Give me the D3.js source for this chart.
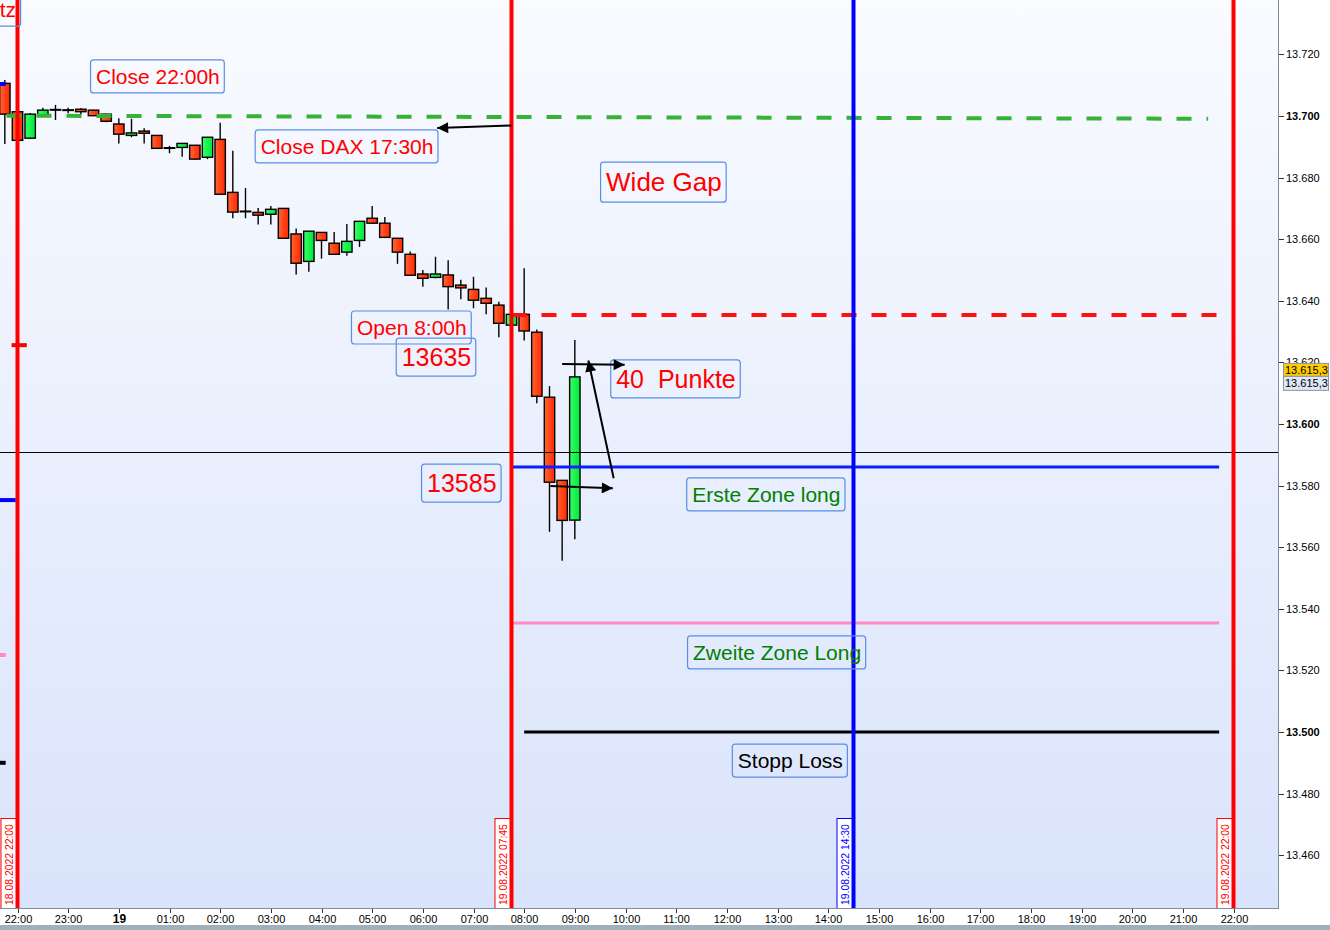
<!DOCTYPE html>
<html><head><meta charset="utf-8">
<script src="https://cdn.jsdelivr.net/npm/d3@7"></script>
<style>
html,body{margin:0;padding:0;background:#fff;overflow:hidden}
svg{display:block;font-family:"Liberation Sans",Arial,sans-serif}
text{white-space:pre}
</style></head><body>
<svg id="c" width="1330" height="930"></svg>
<script>
// ---------- DATA ----------
const candleTimes = ["18 21:45","18 22:00","18 22:15","18 22:30","18 22:45","18 23:00","18 23:15","18 23:30","18 23:45",
  "19 00:00","19 00:15","19 00:30","19 00:45","19 01:00","19 01:15","19 01:30","19 01:45","19 02:00","19 02:15","19 02:30","19 02:45",
  "19 03:00","19 03:15","19 03:30","19 03:45","19 04:00","19 04:15","19 04:30","19 04:45","19 05:00","19 05:15","19 05:30","19 05:45",
  "19 06:00","19 06:15","19 06:30","19 06:45","19 07:00","19 07:15","19 07:30","19 07:45","19 08:00","19 08:15","19 08:30","19 08:45","19 09:00"];
const opens  = [13710.6,13701.4,13692.8,13700.0,13702.0,13702.0,13702.2,13701.9,13700.6,
  13697.4,13693.7,13695.1,13693.7,13689.7,13689.8,13690.5,13686.6,13692.4,13675.2,13669.0,13668.7,
  13668.1,13670.0,13661.7,13652.8,13662.2,13658.7,13655.8,13659.6,13666.8,13665.2,13660.3,13655.1,
  13648.7,13647.6,13648.4,13645.1,13643.7,13640.8,13638.6,13632.1,13635.6,13629.8,13608.7,13581.7,13568.8];
const highs  = [13711.7,13702.0,13701.0,13702.7,13703.6,13702.7,13702.5,13702.0,13700.7,
  13699.3,13699.1,13696.0,13693.8,13690.3,13691.2,13690.6,13693.2,13697.8,13688.7,13676.6,13670.1,
  13670.8,13670.1,13663.5,13662.7,13662.3,13662.3,13664.9,13665.9,13670.8,13667.2,13660.4,13656.0,
  13650.0,13654.3,13653.2,13646.8,13647.8,13644.3,13639.7,13635.7,13650.6,13630.7,13612.3,13581.8,13627.3];
const lows   = [13690.9,13691.0,13692.5,13699.7,13698.7,13700.9,13700.6,13700.0,13698.0,
  13691.1,13693.1,13691.1,13689.4,13687.9,13686.8,13685.9,13686.0,13674.5,13666.8,13666.8,13664.8,
  13664.8,13660.2,13648.5,13649.4,13653.7,13655.0,13654.6,13657.5,13665.1,13660.5,13652.0,13648.2,
  13644.6,13647.3,13637.2,13640.5,13637.6,13635.6,13628.2,13632.0,13627.1,13606.7,13565.0,13555.6,13562.6];
const closes = [13700.6,13692.1,13700.6,13701.9,13702.1,13701.8,13701.4,13700.1,13698.3,
  13694.1,13694.5,13694.4,13689.5,13689.6,13691.1,13686.0,13693.1,13674.6,13668.8,13669.1,13667.8,
  13669.7,13660.3,13652.2,13662.6,13659.6,13655.1,13659.3,13665.8,13665.2,13660.6,13655.8,13648.3,
  13647.3,13648.7,13644.6,13644.2,13640.2,13639.2,13632.7,13635.6,13630.2,13609.0,13581.1,13568.7,13615.3];

const priceTicks = [13460,13480,13500,13520,13540,13560,13580,13600,13620,13640,13660,13680,13700,13720];
const timeTicks = ["18 22:00","18 23:00","19 00:00","19 01:00","19 02:00","19 03:00","19 04:00","19 05:00","19 06:00",
  "19 07:00","19 08:00","19 09:00","19 10:00","19 11:00","19 12:00","19 13:00","19 14:00","19 15:00","19 16:00",
  "19 17:00","19 18:00","19 19:00","19 20:00","19 21:00","19 22:00"];
const timeTickLabels = ["22:00","23:00","19","01:00","02:00","03:00","04:00","05:00","06:00","07:00","08:00","09:00",
  "10:00","11:00","12:00","13:00","14:00","15:00","16:00","17:00","18:00","19:00","20:00","21:00","22:00"];

const vLineTimes  = ["18 22:00","19 07:45","19 14:30","19 22:00"];
const vLineLabels = ["18.08.2022 22:00","19.08.2022 07:45","19.08.2022 14:30","19.08.2022 22:00"];
const vLineColors = ["#ff0000","#ff0000","#0000ff","#ff0000"];

// horizontal / trend lines
const levelFrom   = ["18 21:47","19 07:45","19 07:45","19 07:45","19 08:00"];
const levelTo     = ["19 21:30","19 21:41","19 21:43","19 21:43","19 21:43"];
const levelStart  = [13700.1,13635.4,13586.0,13535.4,13500.0];
const levelEnd    = [13699.1,13635.4,13586.0,13535.4,13500.0];
const levelColors = ["#36b236","#ff1010","#0a1eff","#ff88cc","#000000"];
const levelDash   = ["15,15","15,15",null,null,null];

// short stubs of previous-day lines at the left edge
const stubFrom   = ["18 21:53","18 21:39","18 21:39","18 21:39","18 21:39"];
const stubTo     = ["18 22:11","18 21:58","18 21:46","18 21:46","18 21:46"];
const stubPrice  = [13625.6,13575.3,13525.0,13490.0,13710.4];
const stubColors = ["#ff0000","#0000ff","#ff88cc","#000000","#0000ff"];

const crosshairPrice = 13590.8;
const lastPrice = 13615.3;

const noteTexts  = ["tz","Close 22:00h","Close DAX 17:30h","Wide Gap","Open 8:00h","13635","40  Punkte","13585","Erste Zone long","Zweite Zone Long","Stopp Loss"];
const noteTimes  = ["18 21:39","18 23:33","19 02:48","19 09:37","19 04:42","19 05:35","19 09:49","19 06:05","19 11:19","19 11:20","19 12:13"];
const notePrices = [13732.1,13710.4,13687.7,13675.6,13628.9,13618.8,13611.7,13577.9,13574.7,13523.4,13488.3];
const noteSizes  = [21,21,21,26,21,25,25,25,21,21,21];
const noteColors = ["#ff0000","#ff0000","#ff0000","#ff0000","#ff0000","#ff0000","#ff0000","#ff0000","#008000","#008000","#000000"];

const arrowFromT = ["19 07:45","19 08:45","19 09:46","19 08:31"];
const arrowFromP = [13696.9,13619.5,13582.4,13579.9];
const arrowToT   = ["19 06:17","19 09:59","19 09:16","19 09:45"];
const arrowToP   = [13696.1,13619.2,13620.6,13579.1];

// ---------- SETUP ----------
const W = 1330, H = 930, PR = 1278, PB = 908;
const t = s => { const [d, hm] = s.split(" "); const [h, m] = hm.split(":").map(Number); return new Date(2022, 7, +d, h, m); };
const x = d3.scaleTime().domain([t("18 22:00"), t("19 22:00")]).range([17.5, 1233.5]);
const y = d3.scaleLinear().domain([13500, 13700]).range([732, 116]);

const svg = d3.select("#c");
const defs = svg.append("defs");
const bg = defs.append("linearGradient").attr("id","bg").attr("x1",0).attr("y1",0).attr("x2",0).attr("y2",1);
bg.append("stop").attr("offset","0").attr("stop-color","#f9fbff");
bg.append("stop").attr("offset","1").attr("stop-color","#d9e3fb");
const gr = defs.append("linearGradient").attr("id","gRed").attr("x1",0).attr("x2",1).attr("y1",0).attr("y2",0);
gr.append("stop").attr("offset","0").attr("stop-color","#ff6433");
gr.append("stop").attr("offset","1").attr("stop-color","#ff2800");
const gg = defs.append("linearGradient").attr("id","gGreen").attr("x1",0).attr("x2",1).attr("y1",0).attr("y2",0);
gg.append("stop").attr("offset","0").attr("stop-color","#38ff66");
gg.append("stop").attr("offset","1").attr("stop-color","#00e83a");
defs.append("clipPath").attr("id","clip").append("rect").attr("x",0).attr("y",0).attr("width",PR).attr("height",PB);
defs.append("marker").attr("id","ah").attr("viewBox","0 0 10 10").attr("refX",10).attr("refY",5)
  .attr("markerWidth",13).attr("markerHeight",11).attr("markerUnits","userSpaceOnUse").attr("orient","auto")
  .append("path").attr("d","M0,0 L10,5 L0,10 Z").attr("fill","#000");

svg.append("rect").attr("width",W).attr("height",H).attr("fill","#fff");
svg.append("rect").attr("x",0).attr("y",0).attr("width",PR).attr("height",PB).attr("fill","url(#bg)");

const plot = svg.append("g").attr("clip-path","url(#clip)");

// candles
const candles = candleTimes.map((s,i)=>({t:t(s),o:opens[i],h:highs[i],l:lows[i],c:closes[i]}));
const bw = 10.4;
const cg = plot.append("g").selectAll("g").data(candles).join("g");
cg.append("line").attr("x1",d=>x(d.t)).attr("x2",d=>x(d.t)).attr("y1",d=>y(d.h)).attr("y2",d=>y(d.l))
  .attr("stroke","#000").attr("stroke-width",1.4);
cg.append("rect").attr("x",d=>x(d.t)-bw/2).attr("width",bw)
  .attr("y",d=>y(Math.max(d.o,d.c))).attr("height",d=>Math.max(0.6,Math.abs(y(d.o)-y(d.c))))
  .attr("fill",d=>d.c>=d.o?"url(#gGreen)":"url(#gRed)").attr("stroke","#000").attr("stroke-width",1.4);

// stubs
stubPrice.forEach((p,i)=>{
  plot.append("line").attr("x1",x(t(stubFrom[i]))).attr("x2",x(t(stubTo[i]))).attr("y1",y(p)).attr("y2",y(p))
    .attr("stroke",stubColors[i]).attr("stroke-width",4);
});

// crosshair
const cy = Math.round(y(crosshairPrice))+0.5;
plot.append("line").attr("x1",0).attr("x2",PR).attr("y1",cy).attr("y2",cy).attr("stroke","#000").attr("stroke-width",1);

// levels
levelStart.forEach((p,i)=>{
  const l = plot.append("line").attr("x1",x(t(levelFrom[i]))).attr("x2",x(t(levelTo[i])))
    .attr("y1",y(p)).attr("y2",y(levelEnd[i])).attr("stroke",levelColors[i]).attr("stroke-width",(i<2)?4:3);
  if (levelDash[i]) l.attr("stroke-dasharray",levelDash[i]);
});

// vertical lines
vLineTimes.forEach((s,i)=>{
  const xv = x(t(s));
  plot.append("line").attr("x1",xv).attr("x2",xv).attr("y1",0).attr("y2",PB).attr("stroke",vLineColors[i]).attr("stroke-width",4);
  plot.append("rect").attr("x",xv-16.5).attr("y",818.5).attr("width",15).attr("height",92)
    .attr("fill","#fff").attr("stroke",vLineColors[i]).attr("stroke-width",1);
  plot.append("text").attr("transform",`translate(${xv-5},905) rotate(-90)`).attr("font-size",10.4)
    .attr("fill",vLineColors[i]).text(vLineLabels[i]);
});

// notes
noteTexts.forEach((s,i)=>{
  const g = svg.append("g");
  const tx = g.append("text").attr("x",x(t(noteTimes[i]))).attr("y",y(notePrices[i]))
    .attr("font-size",noteSizes[i]).attr("fill",noteColors[i]).attr("xml:space","preserve").text(s);
  const b = tx.node().getBBox();
  g.insert("rect","text").attr("x",b.x-5.5).attr("y",b.y-5).attr("width",b.width+10).attr("height",b.height+10)
    .attr("rx",3).attr("fill","none").attr("stroke","#5a8ee6").attr("stroke-width",1.2);
});

// arrows
arrowFromT.forEach((s,i)=>{
  svg.append("line").attr("x1",x(t(s))).attr("y1",y(arrowFromP[i])).attr("x2",x(t(arrowToT[i]))).attr("y2",y(arrowToP[i]))
    .attr("stroke","#000").attr("stroke-width",2).attr("marker-end","url(#ah)");
});

// axes frames
svg.append("line").attr("x1",PR+0.5).attr("x2",PR+0.5).attr("y1",0).attr("y2",PB+1).attr("stroke","#7f8d9a");
svg.append("line").attr("x1",0).attr("x2",PR+1).attr("y1",PB+0.5).attr("y2",PB+0.5).attr("stroke","#7f8d9a");
svg.append("rect").attr("x",0).attr("y",925).attr("width",W).attr("height",5).attr("fill","#9eb0bd");

// right axis
const ra = svg.append("g");
priceTicks.forEach(v=>{
  const yy = Math.round(y(v))+0.5;
  ra.append("line").attr("x1",PR+1).attr("x2",PR+6).attr("y1",yy).attr("y2",yy).attr("stroke","#333");
  ra.append("text").attr("x",PR+8).attr("y",yy).attr("dy","0.35em").attr("font-size",11)
    .attr("font-weight",v%100===0?"bold":"normal").attr("fill","#000")
    .text(d3.format(".3f")(v/1000));
});

// bottom axis
timeTicks.forEach((s,i)=>{
  const xx = Math.round(x(t(s)))+0.5;
  svg.append("line").attr("x1",xx).attr("x2",xx).attr("y1",PB+1).attr("y2",PB+5).attr("stroke","#333");
  svg.append("text").attr("x",xx).attr("y",923).attr("text-anchor","middle")
    .attr("font-size",timeTickLabels[i]==="19"?12:11).attr("font-weight",timeTickLabels[i]==="19"?"bold":"normal")
    .attr("fill","#000").text(timeTickLabels[i]);
});

// last price labels
const lp = d3.format(".1f")(lastPrice).replace(".",",").replace(/^(\d{2})(\d{3})/,"$1.$2");
const ly = y(lastPrice);
svg.append("rect").attr("x",PR+5.5).attr("y",ly-13.5).attr("width",45).attr("height",13).attr("fill","#ffcc00").attr("stroke","#8a96a3");
svg.append("text").attr("x",PR+7).attr("y",ly-7).attr("dy","0.35em").attr("font-size",11).attr("fill","#000").text(lp);
svg.append("rect").attr("x",PR+5.5).attr("y",ly-0.5).attr("width",45).attr("height",14).attr("fill","#dde7f7").attr("stroke","#8a96a3");
svg.append("text").attr("x",PR+7).attr("y",ly+6.5).attr("dy","0.35em").attr("font-size",11).attr("fill","#000").text(lp);
</script>
</body></html>
